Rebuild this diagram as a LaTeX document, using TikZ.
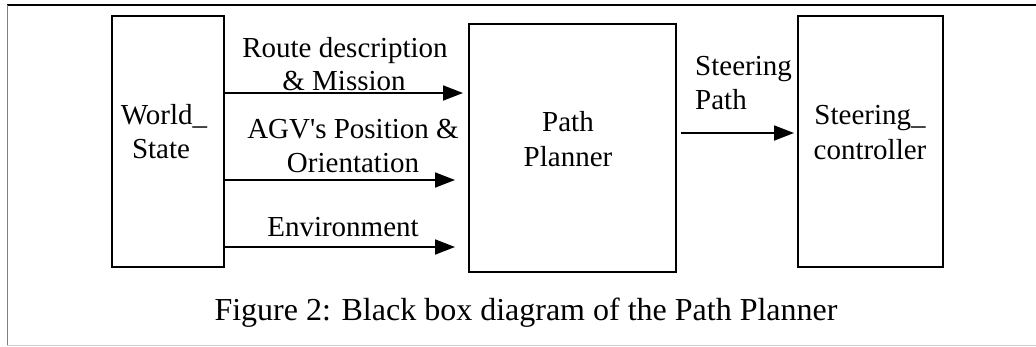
\documentclass[tikz,border=0pt]{standalone}
\usepackage{fontspec}
\setmainfont{Liberation Serif}
\newfontfamily\rawserif{Liberation Serif}
\usetikzlibrary{arrows.meta}
\begin{document}
\begin{tikzpicture}[x=1pt,y=-1pt,
  blk/.style={draw=black,line width=1.8pt,inner sep=0pt,outer sep=0pt},
  lbl/.style={font=\fontsize{29}{33}\selectfont,inner sep=0pt,anchor=base},
  conn/.style={line width=1.8pt,-{Triangle[length=20pt,width=15pt]}}]
\useasboundingbox (0,0) rectangle (1036,346);
% frame
\draw[line width=1.5pt,black] (7,5) -- (1036,5);
\draw[line width=1.5pt,gray] (7.5,5) -- (7.5,346);
\draw[line width=1.5pt,black!20] (7,345.5) -- (1036,345.5);
% boxes
\node[blk,minimum width=112pt,minimum height=251pt] (ws) at (168,141.5) {};
\node[blk,minimum width=207pt,minimum height=248pt] (pp) at (572.5,148) {};
\node[blk,minimum width=145pt,minimum height=251pt] (sc) at (870.5,141.5) {};
\node[lbl] (ws1) at (164,124) {World\_};
\node[lbl] (ws2) at (161,158) {State};
\node[lbl] (pp1) at (568,131) {Path};
\node[lbl] (pp2) at (568,166) {Planner};
\node[lbl] (sc1) at (870,124) {Steering\_};
\node[lbl] (sc2) at (870,159) {controller};
% arrow ends
\coordinate (wsE1) at (224,93);
\coordinate (wsE2) at (224,180);
\coordinate (wsE3) at (224,247);
\coordinate (pp1in) at (463,93);
\coordinate (pp2in) at (455,180);
\coordinate (pp3in) at (455,247);
\coordinate (ppout) at (681,133);
\coordinate (scin) at (794,133);
\draw[conn] (wsE1) -- (pp1in);
\draw[conn] (wsE2) -- (pp2in);
\draw[conn] (wsE3) -- (pp3in);
\draw[conn] (ppout) -- (scin);
% labels
\node[lbl] (l1a) at (345,57) {Route description};
\node[lbl] (l1b) at (344,90) {\& Mission};
\node[lbl] (l2a) at (353,138) {AGV{\rawserif\char"27}s Position \&};
\node[lbl] (l2b) at (353,172) {Orientation};
\node[lbl] (l3) at (343,236) {Environment};
\node[lbl,anchor=base west] (l4a) at (695,75) {Steering};
\node[lbl,anchor=base west] (l4b) at (695,109) {Path};
% caption
\node[font=\fontsize{32}{36}\selectfont,inner sep=0pt,anchor=base] (cap) at (526,320) {Figure 2: Black box diagram of the Path Planner};
\end{tikzpicture}
\end{document}
